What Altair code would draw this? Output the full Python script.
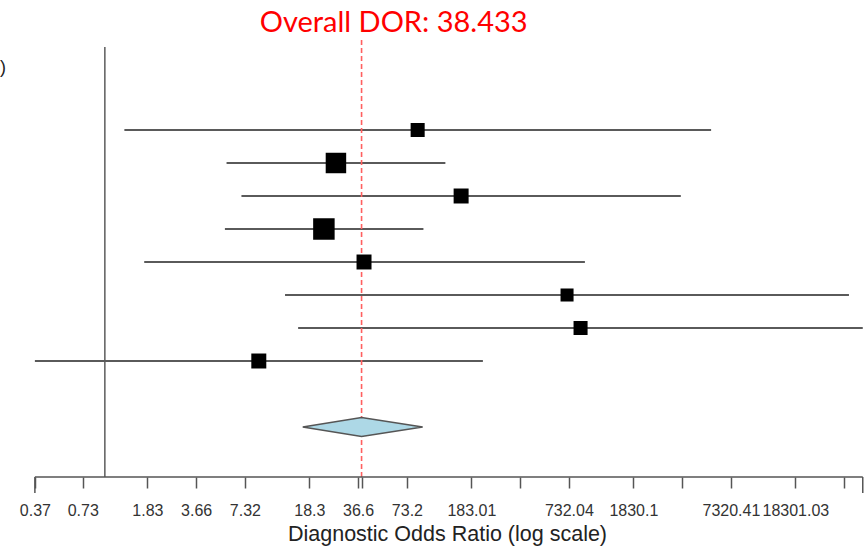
import altair as alt
import pandas as pd

# ---- data ----
rows = [1, 2, 3, 4, 5, 6, 7, 8]
dor = [85.3, 26.7, 158.2, 22.5, 39.8, 713.0, 864.0, 8.92]
ci_lo = [1.32, 5.64, 6.97, 5.51, 1.75, 12.95, 15.6, 0.37]
ci_hi = [5525.0, 126.5, 3592.0, 92.6, 919.0, 39200.0, 47700.0, 215.6]
weights = [9.3, 19.8, 10.6, 21.8, 10.6, 8.0, 9.3, 10.6]

overall = 38.433
overall_lo = 16.65
overall_hi = 91.6
summary_row = 10
diamond_half = 0.288

title_text = "Overall DOR: 38.433"
tick_values = [0.37, 0.73, 1.83, 3.66, 7.32, 18.3, 36.6, 38.433, 73.2, 183.01,
               366.02, 732.04, 1830.1, 3660.2, 7320.41, 18301.03, 36602.06]
unlabeled = [38.433, 366.02, 3660.2, 36602.06]
axis_min = 0.37
axis_max = 47700.0

# ---- tables ----
studies = pd.DataFrame({"row": rows, "dor": dor, "lo": ci_lo, "hi": ci_hi, "w": weights})
diamond_area = pd.DataFrame({
    "x": [overall_lo, overall, overall_hi],
    "y": [summary_row, summary_row - diamond_half, summary_row],
    "y2": [summary_row, summary_row + diamond_half, summary_row],
})
diamond_line = pd.DataFrame({
    "x": [overall_lo, overall, overall_hi, overall, overall_lo],
    "y": [summary_row, summary_row - diamond_half, summary_row,
          summary_row + diamond_half, summary_row],
    "o": [0, 1, 2, 3, 4],
})
ref = pd.DataFrame({"x": [1.0]})
ov = pd.DataFrame({"x": [overall]})
axis_line = pd.DataFrame({"a": [axis_min], "b": [axis_max]})
end_ticks = pd.DataFrame({"x": [axis_min, axis_max]})
title_df = pd.DataFrame({"t": [title_text]})

xscale = alt.Scale(type="log", domain=[0.22534, 49240], nice=False)
yscale = alt.Scale(domain=[-1.515, 11.515], reverse=True, nice=False, zero=False)

cond = " || ".join(f"datum.value == {v}" for v in unlabeled)
xaxis = alt.Axis(
    values=tick_values,
    labelExpr=f"({cond}) ? '' : format(datum.value, '.2~f')",
    domain=False, grid=False,
    tickColor="#555555", tickWidth=1.5, tickSize=11,
    labelFont="Liberation Sans", labelFontSize=16, labelColor="#333333",
    labelPadding=14, labelOverlap=False, labelFlush=False,
    title="Diagnostic Odds Ratio (log scale)",
    titleFont="Liberation Sans", titleFontSize=21.5, titleFontWeight="normal",
    titleColor="#222222", titleX=447, titleY=63, titleAlign="center",
    titleBaseline="alphabetic",
)


def X(field):
    return alt.X(field, type="quantitative", scale=xscale, axis=xaxis)


def Y(field):
    return alt.Y(field, type="quantitative", scale=yscale, axis=None)


ref_line = alt.Chart(ref).mark_rule(color="#666666", strokeWidth=1.6).encode(
    x=X("x"), y=alt.value(0), y2=alt.value(430)
)

ci = alt.Chart(studies).mark_rule(color="#5a5a5a", strokeWidth=1.8).encode(
    x=X("lo"), x2="hi", y=Y("row")
)

red = alt.Chart(ov).mark_rule(color="#FF6060", strokeWidth=1.6, strokeDash=[5, 3]).encode(
    x=X("x"), y=alt.value(-7), y2=alt.value(430)
)

squares = alt.Chart(studies).mark_square(color="black", opacity=1).encode(
    x=X("dor"), y=Y("row"),
    size=alt.Size("w", type="quantitative",
                  scale=alt.Scale(domain=[0, 21.8], range=[0, 462]), legend=None),
)

dia_fill = alt.Chart(diamond_area).mark_area(color="#ADD8E6", opacity=1).encode(
    x=X("x"), y=Y("y"), y2="y2"
)
dia_edge = alt.Chart(diamond_line).mark_line(color="#555555", strokeWidth=1.5).encode(
    x=X("x"), y=Y("y"), order="o"
)

ax_line = alt.Chart(axis_line).mark_rule(color="#555555", strokeWidth=1.5).encode(
    x=X("a"), x2="b", y=alt.value(430)
)
ax_ends = alt.Chart(end_ticks).mark_rule(color="#555555", strokeWidth=1.5).encode(
    x=X("x"), y=alt.value(430), y2=alt.value(446)
)

stray = alt.Chart(pd.DataFrame({"t": [")"]})).mark_text(
    align="left", baseline="middle", fontSize=18, font="Liberation Sans", color="#222222"
).encode(text="t", x=alt.value(0), y=alt.value(21))

title = alt.Chart(title_df).mark_text(
    align="center", baseline="alphabetic", font="Lato", fontSize=29, color="red"
).encode(text="t", x=alt.value(393.7), y=alt.value(-15.3))

chart = alt.layer(
    ref_line, ci, red, squares, dia_fill, dia_edge, ax_line, ax_ends, stray, title
).properties(
    width=865, height=430,
    background="white",
    autosize=alt.AutoSizeParams(type="none"),
    padding={"left": 0, "top": 47, "right": 0, "bottom": 70},
).configure_view(stroke=None, strokeWidth=0)

chart.save("out.html", embed_options={"renderer": "svg", "actions": False})
